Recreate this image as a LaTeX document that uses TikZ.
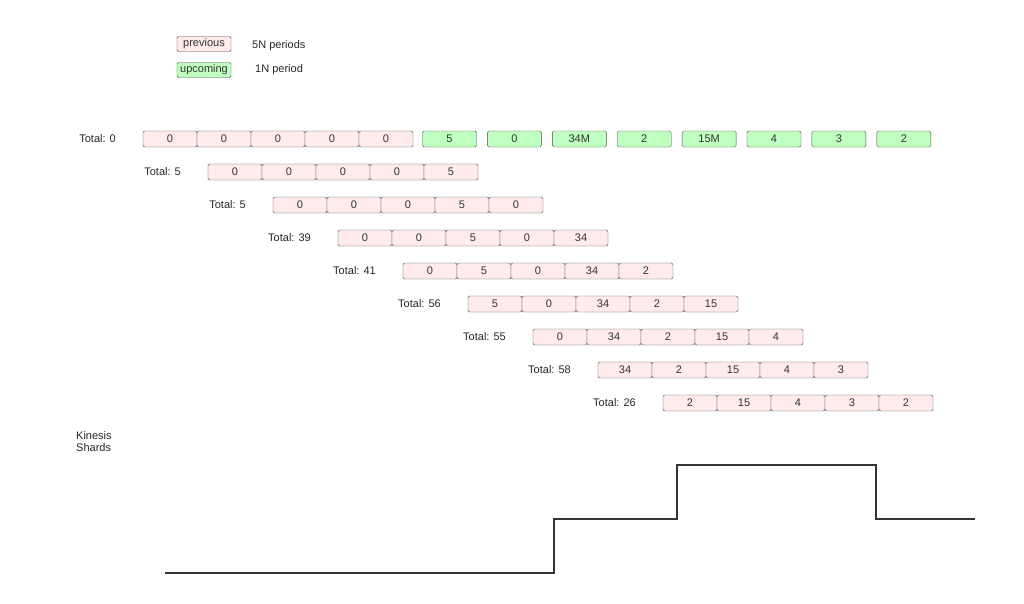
\documentclass[tikz,border=0pt]{standalone}
\usepackage{fontspec}
\setmainfont{Liberation Sans}
\begin{document}
\begin{tikzpicture}[x=1pt,y=-1pt,
  prev/.style={draw=black!70,fill=red!8,rounded corners=1.5pt,minimum width=54pt,minimum height=16pt,inner sep=0pt,font=\fontsize{11}{12}\selectfont,text=black!80},
  up/.style={draw=black!70,fill=green!25,rounded corners=1.5pt,minimum width=54pt,minimum height=16pt,inner sep=0pt,font=\fontsize{11}{12}\selectfont,text=black!80},
  lab/.style={font=\fontsize{11}{12}\selectfont,text=black!85,inner sep=0pt},
  shard/.style={draw=black!80,line width=1.2pt}]
\useasboundingbox (0,0) rectangle (1024,603);
% legend
\node[prev,minimum width=54pt,minimum height=15pt] (lp) at (204,44) {previous};
\node[lab,anchor=west] (lpt) at (252,46) {5N periods};
\node[up,minimum width=54pt,minimum height=15pt] (lu) at (204,70) {upcoming};
\node[lab,anchor=west] (lut) at (255,70) {1N period};
% rows
\foreach \r/\t/\a/\b/\c/\d/\e in {0/0/0/0/0/0/0,1/5/0/0/0/0/5,2/5/0/0/0/5/0,3/39/0/0/5/0/34,4/41/0/5/0/34/2,5/56/5/0/34/2/15,6/55/0/34/2/15/4,7/58/34/2/15/4/3,8/26/2/15/4/3/2}{
  \pgfmathsetmacro\xs{143+65*\r}
  \pgfmathsetmacro\yy{139+33*\r}
  \node[lab,anchor=east] (t\r) at (\xs-27,\yy) {Total: \t};
  \foreach \v [count=\k from 0] in {\a,\b,\c,\d,\e}{
    \node[prev] (b\r-\k) at (\xs+27+54*\k,\yy) {\v};
  }
}
\foreach \v [count=\k from 0] in {5,0,34M,2,15M,4,3,2}{
  \node[up] (g\k) at (449.5+64.9*\k,139) {\v};
}
\node[lab,anchor=north west,align=left] (ks) at (76,431) {Kinesis\\Shards};
\coordinate (s0) at (165,573);
\coordinate (s1) at (554,573);
\coordinate (s2) at (554,519);
\coordinate (s3) at (677,519);
\coordinate (s4) at (677,465);
\coordinate (s5) at (876,465);
\coordinate (s6) at (876,519);
\coordinate (s7) at (975,519);
\draw[shard] (s0) -- (s1) -- (s2) -- (s3) -- (s4) -- (s5) -- (s6) -- (s7);
\end{tikzpicture}
\end{document}
